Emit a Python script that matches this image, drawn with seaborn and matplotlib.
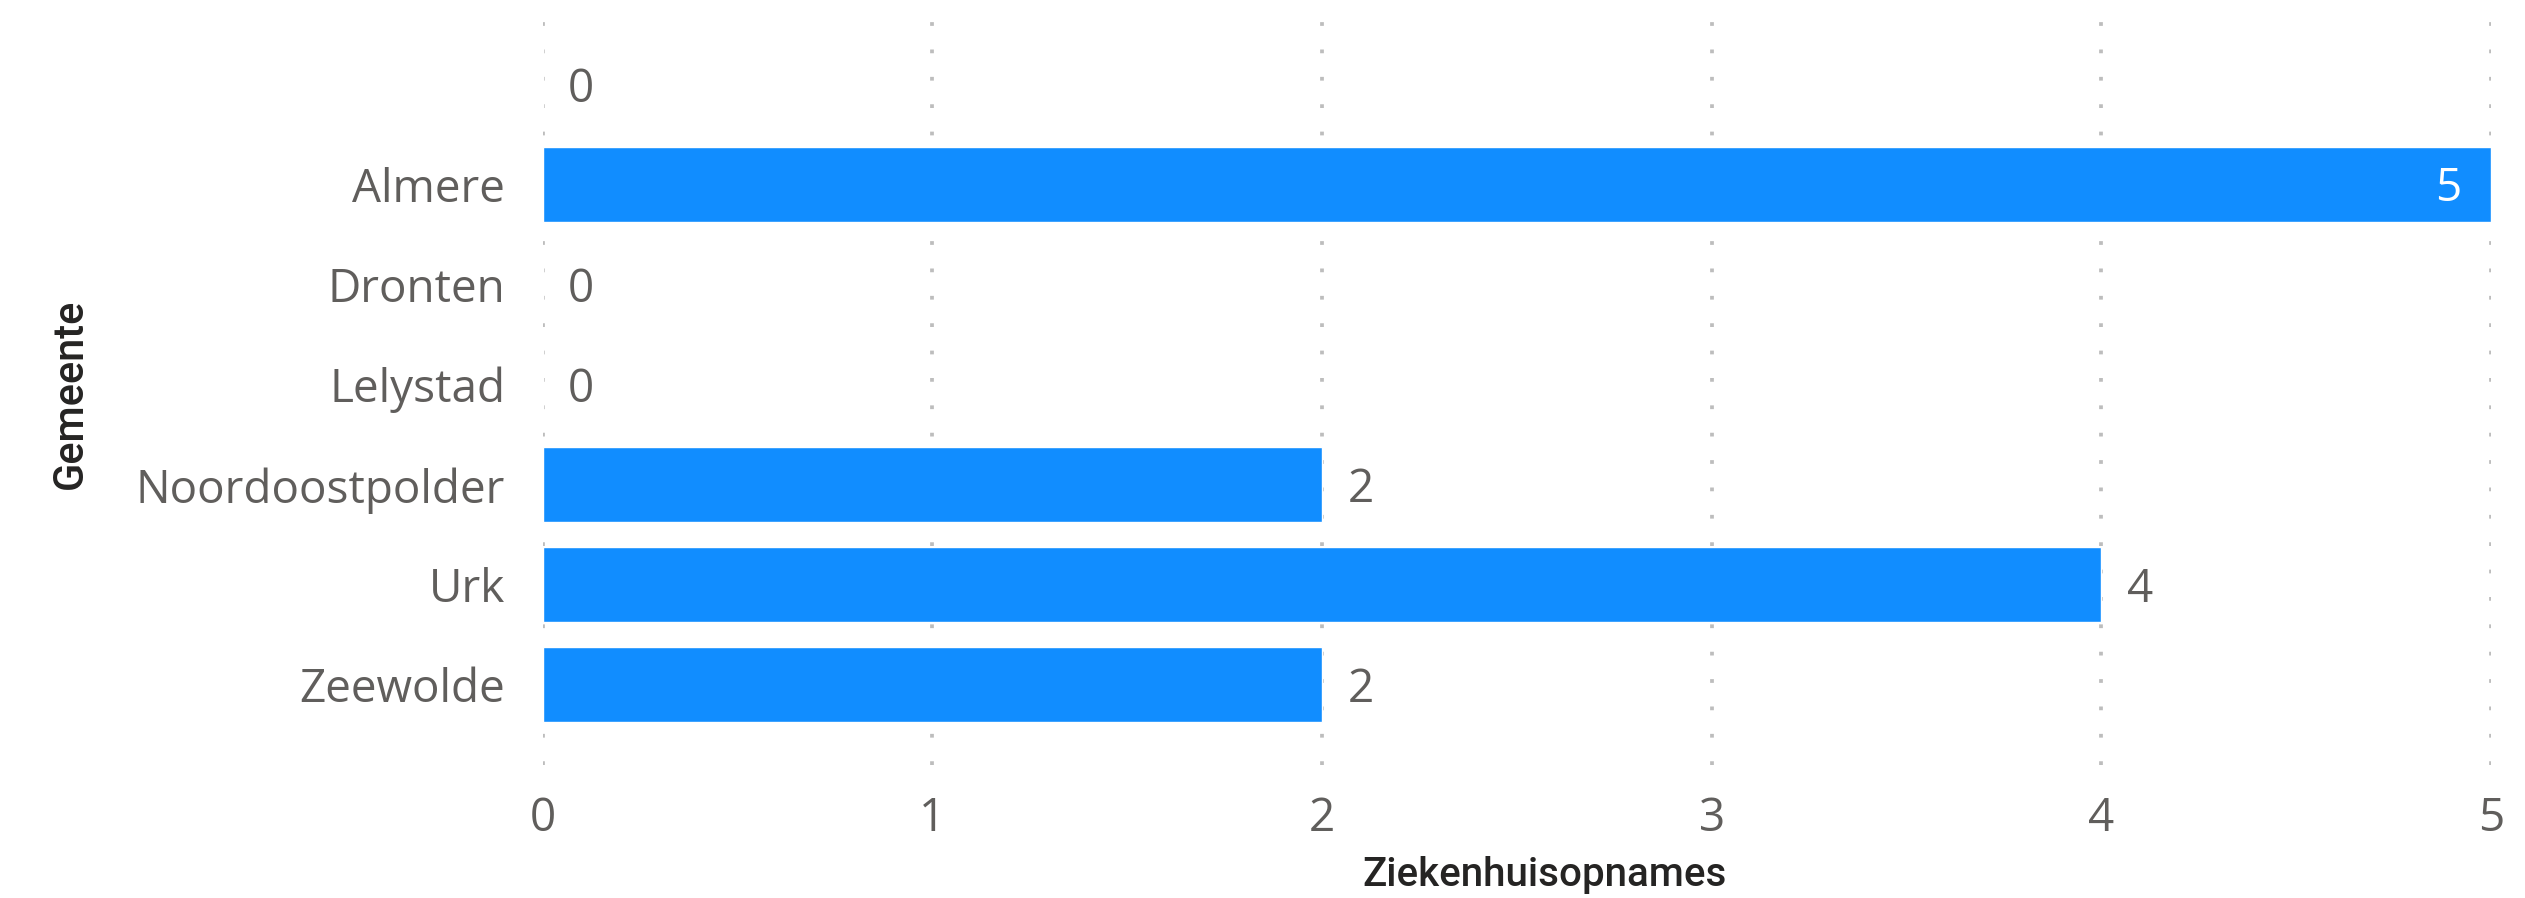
import matplotlib
matplotlib.use("Agg")
import matplotlib.pyplot as plt
import seaborn as sns
import pandas as pd

# data
gemeenten = ["", "Almere", "Dronten", "Lelystad", "Noordoostpolder", "Urk", "Zeewolde"]
opnames = [0, 5, 0, 0, 2, 4, 2]
x_ticks = [0, 1, 2, 3, 4, 5]

df = pd.DataFrame({"Gemeente": gemeenten, "Ziekenhuisopnames": opnames})

sns.set_theme(style="white")
plt.rcParams["font.family"] = ["Open Sans", "DejaVu Sans"]

bar_color = "#118DFF"
text_grey = "#605E5C"
fs = 33

fig = plt.figure(figsize=(25.25, 8.98), dpi=100)
ax = fig.add_axes([0.2150, 0.1481, 0.7715, 0.8341])

sns.barplot(data=df, x="Ziekenhuisopnames", y="Gemeente", orient="h",
            color=bar_color, saturation=1, width=0.75, ax=ax, zorder=3)

ax.set_xlim(0, 5)
ax.set_ylim(6.8, -0.685)
ax.set_xticks(x_ticks)
ax.set_xticklabels([str(t) for t in x_ticks])

# dotted vertical grid
for t in x_ticks:
    ax.axvline(t, color="#BDBDBD", lw=2.7, linestyle=(0, (1, 6.3)),
               dash_capstyle="butt", zorder=1)

for s in ax.spines.values():
    s.set_visible(False)

ax.tick_params(axis="x", length=0, pad=22, labelsize=fs, labelcolor=text_grey)
ax.tick_params(axis="y", length=0, pad=27, labelsize=fs, labelcolor=text_grey)

# value labels
xmax = ax.get_xlim()[1]
for bar, val in zip(ax.containers[0], opnames):
    yc = bar.get_y() + bar.get_height() / 2
    if val >= xmax:
        ax.text(val - 0.075, yc + 0.04, str(val), ha="right", va="center",
                fontsize=fs, color="white", zorder=4)
    else:
        ax.text(val + 0.065, yc + 0.05, str(val), ha="left", va="center",
                fontsize=fs, color=text_grey, zorder=4)

ax.set_xlabel("Ziekenhuisopnames", fontsize=29, color="#252423",
              family=["Roboto", "DejaVu Sans"], fontweight="medium")
ax.set_ylabel("Gemeente", fontsize=30, color="#252423",
              family=["Roboto", "DejaVu Sans"], fontweight="medium")
ax.xaxis.set_label_coords(0.514, -0.122)
ax.yaxis.set_label_coords(-0.232, 0.495)

fig.savefig("out.png", dpi=100)
